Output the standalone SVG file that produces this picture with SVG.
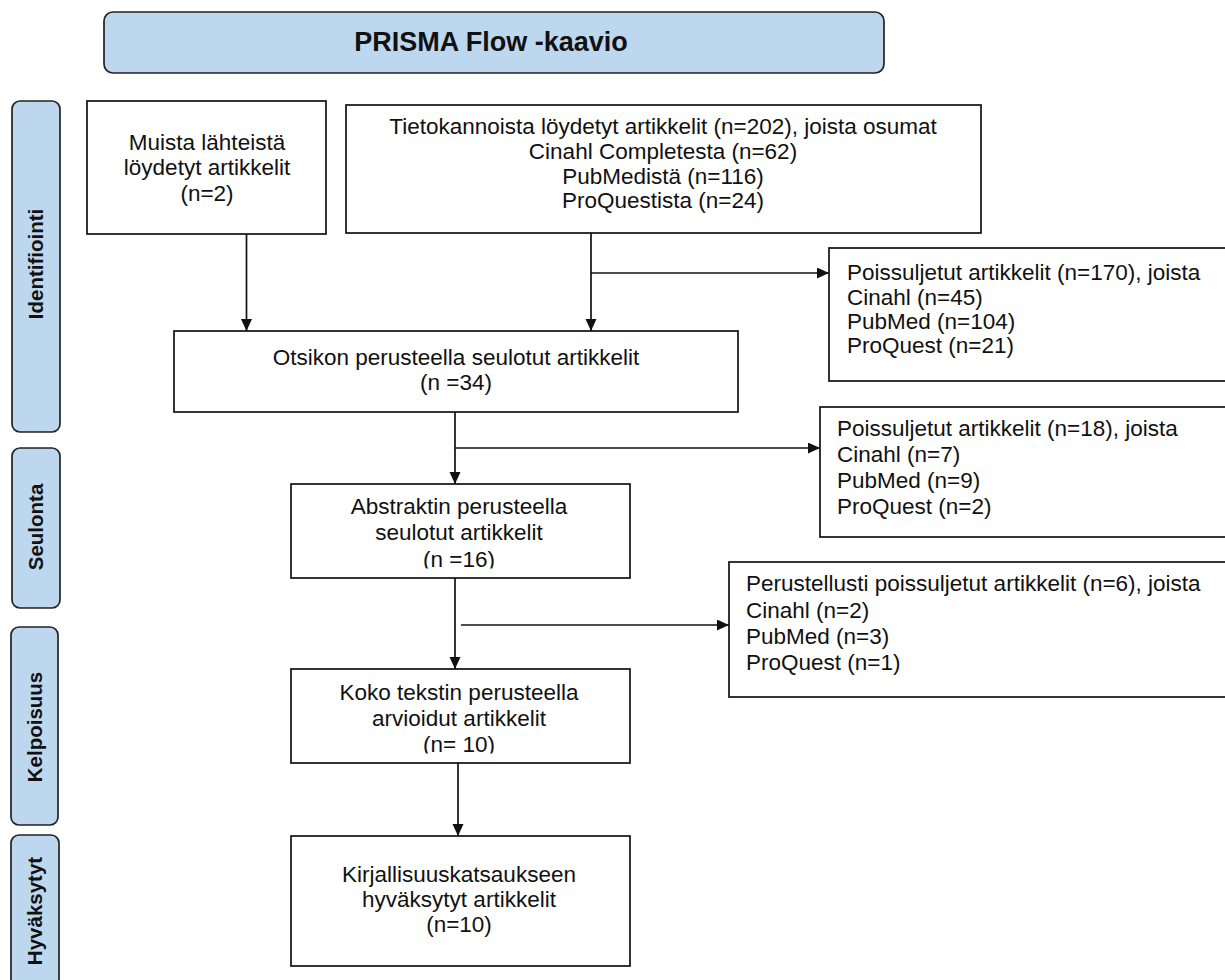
<svg xmlns="http://www.w3.org/2000/svg" width="1225" height="980" viewBox="0 0 1225 980">
<style>
.box{fill:#fff;stroke:#111;stroke-width:1.7}
.lane{fill:#bdd7ee;stroke:#222;stroke-width:1.7}
.t{font-family:"Liberation Sans",Arial,sans-serif;font-size:22.5px;fill:#111}
.c{text-anchor:middle}
.lbl{font-family:"Liberation Sans",Arial,sans-serif;font-weight:bold;font-size:20.5px;text-anchor:middle;fill:#111}
.ttl{font-family:"Liberation Sans",Arial,sans-serif;font-weight:bold;font-size:27px;text-anchor:middle;fill:#111}
.ln{stroke:#111;stroke-width:1.7;fill:none}
</style>
<defs>
<marker id="ah" markerWidth="13" markerHeight="12" refX="12" refY="5.5" orient="auto" markerUnits="userSpaceOnUse">
<path d="M0,0 L12,5.5 L0,11 z" fill="#111"/>
</marker>
<clipPath id="clipE"><rect x="280" y="480" width="360" height="88.5"/></clipPath>
<clipPath id="clipF"><rect x="280" y="665" width="360" height="88.5"/></clipPath>
</defs>

<g id="title">
<rect class="lane" x="104" y="12" width="780" height="61" rx="9"/>
<text class="ttl" x="491" y="51">PRISMA Flow -kaavio</text>
</g>

<g id="lane-identifiointi">
<rect class="lane" x="12" y="101" width="48" height="331" rx="8"/>
<text class="lbl" transform="translate(43,264) rotate(-90)">Identifiointi</text>
</g>
<g id="lane-seulonta">
<rect class="lane" x="12" y="448" width="48" height="160" rx="8"/>
<text class="lbl" transform="translate(43,527) rotate(-90)">Seulonta</text>
</g>
<g id="lane-kelpoisuus">
<rect class="lane" x="11" y="627" width="47" height="198" rx="8"/>
<text class="lbl" transform="translate(42,727) rotate(-90)">Kelpoisuus</text>
</g>
<g id="lane-hyvaksytyt">
<rect class="lane" x="11" y="835" width="48" height="170" rx="8"/>
<text class="lbl" transform="translate(42,911) rotate(-90)">Hyväksytyt</text>
</g>

<g id="muista">
<rect class="box" x="87" y="101" width="239" height="133"/>
<text class="t c" x="207" y="150">Muista lähteistä</text>
<text class="t c" x="207" y="175">löydetyt artikkelit</text>
<text class="t c" x="207" y="201">(n=2)</text>
</g>

<g id="tietokannat">
<rect class="box" x="346" y="105" width="635" height="128"/>
<text class="t c" x="663" y="134">Tietokannoista löydetyt artikkelit (n=202), joista osumat</text>
<text class="t c" x="663" y="159">Cinahl Completesta (n=62)</text>
<text class="t c" x="663" y="184">PubMedistä (n=116)</text>
<text class="t c" x="663" y="208">ProQuestista (n=24)</text>
</g>

<g id="otsikko">
<rect class="box" x="174" y="331" width="564" height="81"/>
<text class="t c" x="456" y="365">Otsikon perusteella seulotut artikkelit</text>
<text class="t c" x="456" y="390">(n =34)</text>
</g>

<g id="poissuljetut1">
<rect class="box" x="829" y="248" width="420" height="133"/>
<text class="t" x="847" y="280">Poissuljetut artikkelit (n=170), joista</text>
<text class="t" x="847" y="304.5">Cinahl (n=45)</text>
<text class="t" x="847" y="329">PubMed (n=104)</text>
<text class="t" x="847" y="353">ProQuest (n=21)</text>
</g>

<g id="abstrakti">
<rect class="box" x="291" y="484" width="339" height="94"/>
<g clip-path="url(#clipE)">
<text class="t c" x="459" y="514">Abstraktin perusteella</text>
<text class="t c" x="459" y="540">seulotut artikkelit</text>
<text class="t c" x="459" y="567">(n =16)</text>
</g>
</g>

<g id="poissuljetut2">
<rect class="box" x="820" y="407" width="420" height="130"/>
<text class="t" x="837" y="436">Poissuljetut artikkelit (n=18), joista</text>
<text class="t" x="837" y="462">Cinahl (n=7)</text>
<text class="t" x="837" y="488">PubMed (n=9)</text>
<text class="t" x="837" y="514">ProQuest (n=2)</text>
</g>

<g id="kokoteksti">
<rect class="box" x="291" y="669" width="339" height="94"/>
<g clip-path="url(#clipF)">
<text class="t c" x="459" y="700">Koko tekstin perusteella</text>
<text class="t c" x="459" y="726">arvioidut artikkelit</text>
<text class="t c" x="459" y="752">(n= 10)</text>
</g>
</g>

<g id="poissuljetut3">
<rect class="box" x="729" y="562" width="520" height="135"/>
<text class="t" x="746" y="591">Perustellusti poissuljetut artikkelit (n=6), joista</text>
<text class="t" x="746" y="618">Cinahl (n=2)</text>
<text class="t" x="746" y="644">PubMed (n=3)</text>
<text class="t" x="746" y="670">ProQuest (n=1)</text>
</g>

<g id="hyvaksytyt">
<rect class="box" x="291" y="836" width="339" height="130"/>
<text class="t c" x="459" y="882">Kirjallisuuskatsaukseen</text>
<text class="t c" x="459" y="907">hyväksytyt artikkelit</text>
<text class="t c" x="459" y="932">(n=10)</text>
</g>

<g id="connectors">
<path class="ln" d="M246.5,234 V331" marker-end="url(#ah)"/>
<path class="ln" d="M591,233 V331" marker-end="url(#ah)"/>
<path class="ln" d="M591,273 H829" marker-end="url(#ah)"/>
<path class="ln" d="M455,412 V484" marker-end="url(#ah)"/>
<path class="ln" d="M455,448 H820" marker-end="url(#ah)"/>
<path class="ln" d="M455,578 V669" marker-end="url(#ah)"/>
<path class="ln" d="M461,625 H729" marker-end="url(#ah)"/>
<path class="ln" d="M458,763 V836" marker-end="url(#ah)"/>
</g>
</svg>
